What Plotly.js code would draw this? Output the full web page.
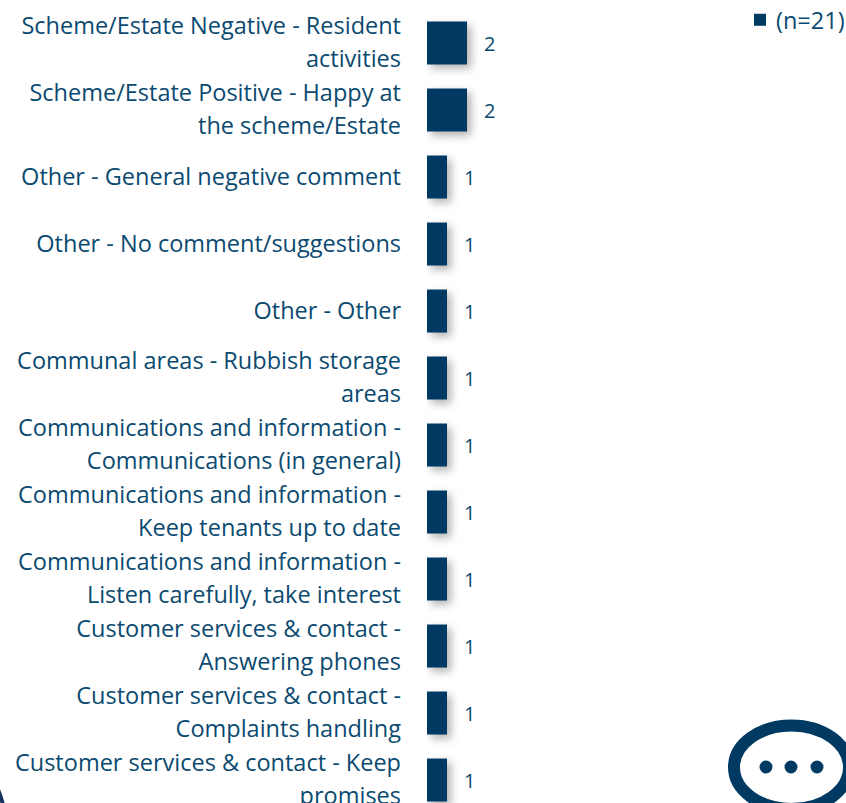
<!DOCTYPE html>
<html>
<head>
<meta charset="utf-8">
<script src="https://cdn.plot.ly/plotly-3.0.1.min.js"></script>
<style>
html,body{margin:0;padding:0;background:#fff;overflow:hidden}
.trace.bars .point path{filter:drop-shadow(4px 4px 4px rgba(0,0,0,0.3))}
</style>
</head>
<body>
<div id="chart" style="width:846px;height:803px"></div>
<script>
const categories = [
  "Scheme/Estate Negative - Resident<br>activities",
  "Scheme/Estate Positive - Happy at<br>the scheme/Estate",
  "Other - General negative comment",
  "Other - No comment/suggestions",
  "Other - Other",
  "Communal areas - Rubbish storage<br>areas",
  "Communications and information -<br>Communications (in general)",
  "Communications and information -<br>Keep tenants up to date",
  "Communications and information -<br>Listen carefully, take interest",
  "Customer services & contact -<br>Answering phones",
  "Customer services & contact -<br>Complaints handling",
  "Customer services & contact - Keep<br>promises"
];
const values = [2,2,1,1,1,1,1,1,1,1,1,1];
const seriesName = "(n=21)";
const navy = "#003A63";
const textColor = "#0B4A70";
const fontFamily = '"Open Sans", sans-serif';
const W = 846, H = 803;
const px = v => v / W, py = v => 1 - v / H;

const data = [{
  type: "bar", orientation: "h", name: seriesName,
  y: categories, x: values,
  marker: {color: navy, line: {color: "#ffffff", width: 0}},
  showlegend: true, hoverinfo: "skip"
}];

const annotations = categories.map((c, i) => ({
  x: values[i], y: c, xref: "x", yref: "y",
  text: String(values[i]), showarrow: false,
  xanchor: "left", yanchor: "middle", xshift: 15, yshift: 0,
  font: {family: fontFamily, size: 20, color: textColor}
}));

const shapes = [
  {type: "circle", xref: "paper", yref: "paper",
   x0: px(734), x1: px(849), y0: py(725.5), y1: py(809),
   line: {color: navy, width: 12}, fillcolor: "rgba(0,0,0,0)"},
  ...[766, 791, 817].map(cx => ({
    type: "circle", xref: "paper", yref: "paper",
    x0: px(cx - 6.5), x1: px(cx + 6.5), y0: py(767 - 6.5), y1: py(767 + 6.5),
    line: {width: 0}, fillcolor: navy
  })),
  {type: "circle", xref: "paper", yref: "paper",
   x0: px(-206), x1: px(6), y0: py(724), y1: py(936),
   line: {color: "#16305E", width: 4}, fillcolor: "rgba(0,0,0,0)", layer: "below"}
];

const layout = {
  width: W, height: H,
  margin: {l: 0, r: 0, t: 0, b: 0, pad: 0},
  paper_bgcolor: "#ffffff", plot_bgcolor: "rgba(0,0,0,0)",
  font: {family: fontFamily, color: textColor},
  bargap: 0.358,
  xaxis: {domain: [427 / W, 1], range: [0, 419 / 20], visible: false, fixedrange: true},
  yaxis: {
    type: "category", categoryorder: "array", categoryarray: categories,
    range: [11.343, -0.642], showgrid: false, zeroline: false, showline: false,
    ticks: "", ticklen: 0, tickfont: {family: fontFamily, size: 23.5, color: textColor},
    automargin: false, fixedrange: true, ticklabelstandoff: 25
  },
  legend: {
    x: 1, xanchor: "right", y: 1, yanchor: "top",
    bgcolor: "rgba(0,0,0,0)", borderwidth: 0,
    font: {family: fontFamily, size: 23.5, color: textColor},
    itemclick: false, itemdoubleclick: false
  },
  annotations, shapes, showlegend: true
};

Plotly.newPlot("chart", data, layout, {displayModeBar: false, staticPlot: true}).then(gd => {
  // Reference uses a looser line spacing in the wrapped axis labels
  gd.querySelectorAll(".ytick text").forEach(t => {
    const lines = t.querySelectorAll("tspan.line");
    if (lines.length > 1) {
      lines[1].setAttribute("dy", "1.404em");
      t.setAttribute("transform", (t.getAttribute("transform") || "") + " translate(0,-2)");
    }
  });
  // Nudge the legend: the reference sets swatch and label closer together
  const leg = gd.querySelector(".legend");
  leg.setAttribute("transform", (leg.getAttribute("transform") || "") + " translate(8,-2)");
  gd.querySelectorAll(".legendtext").forEach(t => {
    t.setAttribute("x", parseFloat(t.getAttribute("x")) - 4);
  });
});
</script>
</body>
</html>
